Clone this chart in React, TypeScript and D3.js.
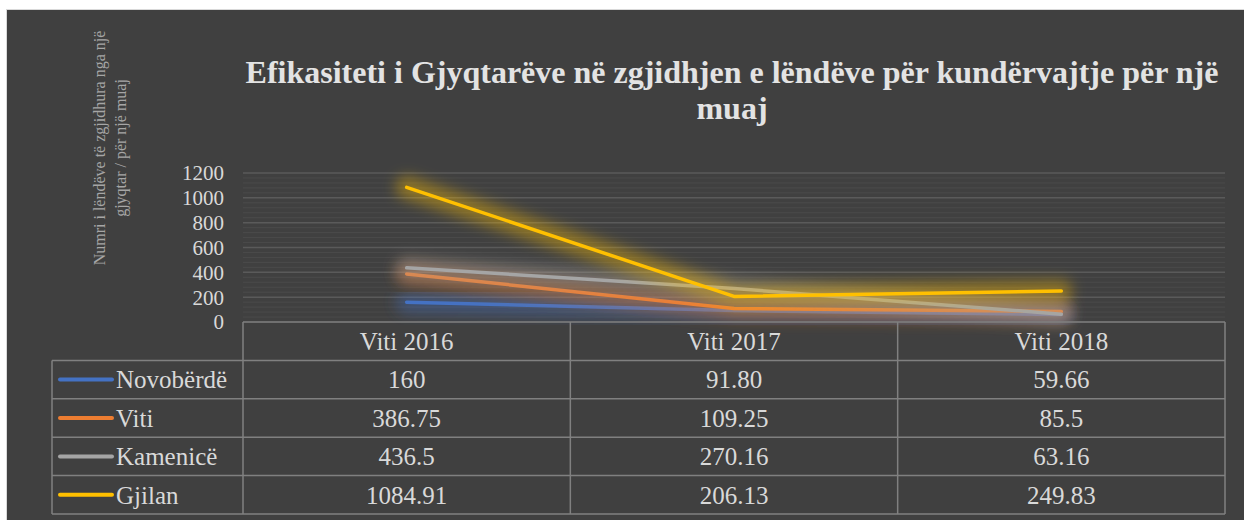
import { useEffect, useRef } from 'react'
import * as d3 from 'd3'

const categories = ['Viti 2016', 'Viti 2017', 'Viti 2018']
const seriesNames = ['Novobërdë', 'Viti', 'Kamenicë', 'Gjilan']
const novoberde = [160, 91.8, 59.66]
const viti = [386.75, 109.25, 85.5]
const kamenice = [436.5, 270.16, 63.16]
const gjilan = [1084.91, 206.13, 249.83]
const tableLabels = [
    ['160', '91.80', '59.66'],
    ['386.75', '109.25', '85.5'],
    ['436.5', '270.16', '63.16'],
    ['1084.91', '206.13', '249.83'],
]
const yTicks = [0, 200, 400, 600, 800, 1000, 1200]
const colors = ['#4472C4', '#ED7D31', '#A5A5A5', '#FFC000']

const W = 1244, H = 520
const FONT = 'Liberation Serif, Times New Roman, serif'

export default function App() {
    const svgRef = useRef<SVGSVGElement | null>(null)

    useEffect(() => {
        const el = svgRef.current
        if (!el) return
        const svg = d3.select(el)
        svg.selectAll('*').remove()

        const plot = { left: 243, right: 1225, top: 173, bottom: 322 }
        const legendLeft = 52
        const rowH = 38.4

        // background
        svg.append('rect').attr('x', 6).attr('y', 9).attr('width', W - 6).attr('height', H - 9).attr('fill', '#d9d9d9')
        svg.append('rect').attr('x', 7).attr('y', 10).attr('width', W - 7).attr('height', H - 10).attr('fill', '#404040')

        const defs = svg.append('defs')
        defs.append('filter').attr('id', 'glow')
            .attr('x', '-20%').attr('y', '-80%').attr('width', '140%').attr('height', '260%')
            .append('feGaussianBlur').attr('stdDeviation', 7)

        const x = d3.scalePoint<string>().domain(categories).range([plot.left, plot.right]).padding(0.5)
        const band = d3.scaleBand<string>().domain(categories).range([plot.left, plot.right])
        const y = d3.scaleLinear().domain([0, 1200]).range([plot.bottom, plot.top])

        // minor grid
        const minor = d3.range(40, 1200, 40).filter(v => v % 200 !== 0)
        svg.append('g').selectAll('line').data(minor).enter().append('line')
            .attr('x1', plot.left).attr('x2', plot.right)
            .attr('y1', d => y(d)).attr('y2', d => y(d))
            .attr('stroke', '#4a4a4a').attr('stroke-width', 1)

        // major grid
        svg.append('g').selectAll('line').data(yTicks.slice(1)).enter().append('line')
            .attr('x1', plot.left).attr('x2', plot.right)
            .attr('y1', d => y(d)).attr('y2', d => y(d))
            .attr('stroke', '#5a5a5a').attr('stroke-width', 1.5)

        // tick labels
        svg.append('g').selectAll('text').data(yTicks).enter().append('text')
            .attr('x', 224).attr('y', d => y(d)).attr('dy', '0.35em')
            .attr('text-anchor', 'end').attr('fill', '#d9d9d9')
            .attr('font-family', FONT).attr('font-size', 21)
            .text(d => d)

        // lines, each with its own glow drawn just before it
        const data = [novoberde, viti, kamenice, gjilan]
        const line = d3.line<number>().x((_, i) => x(categories[i]) as number).y(d => y(d))
        data.forEach((s, i) => {
            svg.append('path').attr('d', line(s))
                .attr('fill', 'none').attr('stroke', colors[i]).attr('stroke-width', 22)
                .attr('stroke-opacity', 0.4).attr('stroke-linejoin', 'round').attr('stroke-linecap', 'round')
                .attr('filter', 'url(#glow)')
            svg.append('path').attr('d', line(s))
                .attr('fill', 'none').attr('stroke', colors[i]).attr('stroke-width', 3.5)
                .attr('stroke-linejoin', 'round').attr('stroke-linecap', 'round')
        })

        // title
        const title = svg.append('text').attr('text-anchor', 'middle')
            .attr('fill', '#e3e3e3').attr('font-family', FONT).attr('font-weight', 'bold').attr('font-size', 32)
        title.append('tspan').attr('x', 732).attr('y', 83)
            .text('Efikasiteti i Gjyqtarëve në zgjidhjen e lëndëve për kundërvajtje për një')
        title.append('tspan').attr('x', 732).attr('y', 119).text('muaj')

        // y axis title
        const yt = svg.append('text').attr('transform', 'translate(110,148) rotate(-90)')
            .attr('text-anchor', 'middle').attr('fill', '#a6a6a6')
            .attr('font-family', FONT).attr('font-size', 16)
        yt.append('tspan').attr('x', 0).attr('y', -5).text('Numri i lëndëve të zgjidhura nga një')
        yt.append('tspan').attr('x', 0).attr('y', 16).text('gjyqtar / për një muaj')

        // data table
        const tb = svg.append('g')
        const border = '#808080'
        const tableBottom = plot.bottom + rowH * 5
        tb.append('line').attr('x1', plot.left).attr('x2', plot.right)
            .attr('y1', plot.bottom).attr('y2', plot.bottom).attr('stroke', border).attr('stroke-width', 1.5)
        d3.range(1, 6).forEach(r => {
            tb.append('line').attr('x1', legendLeft).attr('x2', plot.right)
                .attr('y1', plot.bottom + r * rowH).attr('y2', plot.bottom + r * rowH)
                .attr('stroke', border).attr('stroke-width', 1.5)
        })
        tb.append('line').attr('x1', legendLeft).attr('x2', legendLeft)
            .attr('y1', plot.bottom + rowH).attr('y2', tableBottom).attr('stroke', border).attr('stroke-width', 1.5)
        categories.forEach(c => {
            const x0 = band(c) as number
            tb.append('line').attr('x1', x0).attr('x2', x0).attr('y1', plot.bottom).attr('y2', tableBottom)
                .attr('stroke', border).attr('stroke-width', 1.5)
        })
        tb.append('line').attr('x1', plot.right).attr('x2', plot.right).attr('y1', plot.bottom).attr('y2', tableBottom)
            .attr('stroke', border).attr('stroke-width', 1.5)

        const txt = (sel: any) => sel.attr('fill', '#d9d9d9').attr('font-family', FONT).attr('font-size', 25)

        categories.forEach(c => {
            tb.append('text').call(txt).attr('text-anchor', 'middle')
                .attr('x', x(c) as number).attr('y', plot.bottom + rowH / 2).attr('dy', '0.35em').text(c)
        })
        seriesNames.forEach((n, r) => {
            const cy = plot.bottom + rowH * (r + 1) + rowH / 2
            tb.append('line').attr('x1', 60).attr('x2', 112).attr('y1', cy).attr('y2', cy)
                .attr('stroke', colors[r]).attr('stroke-width', 4).attr('stroke-linecap', 'round')
            tb.append('text').call(txt).attr('x', 116).attr('y', cy).attr('dy', '0.35em').text(n)
            categories.forEach((c, i) => {
                tb.append('text').call(txt).attr('text-anchor', 'middle')
                    .attr('x', x(c) as number).attr('y', cy).attr('dy', '0.35em').text(tableLabels[r][i])
            })
        })
    }, [])

    return (
        <div style={{ position: 'absolute', left: 0, top: 0 }}>
            <svg ref={svgRef} width={W} height={H} />
        </div>
    )
}
